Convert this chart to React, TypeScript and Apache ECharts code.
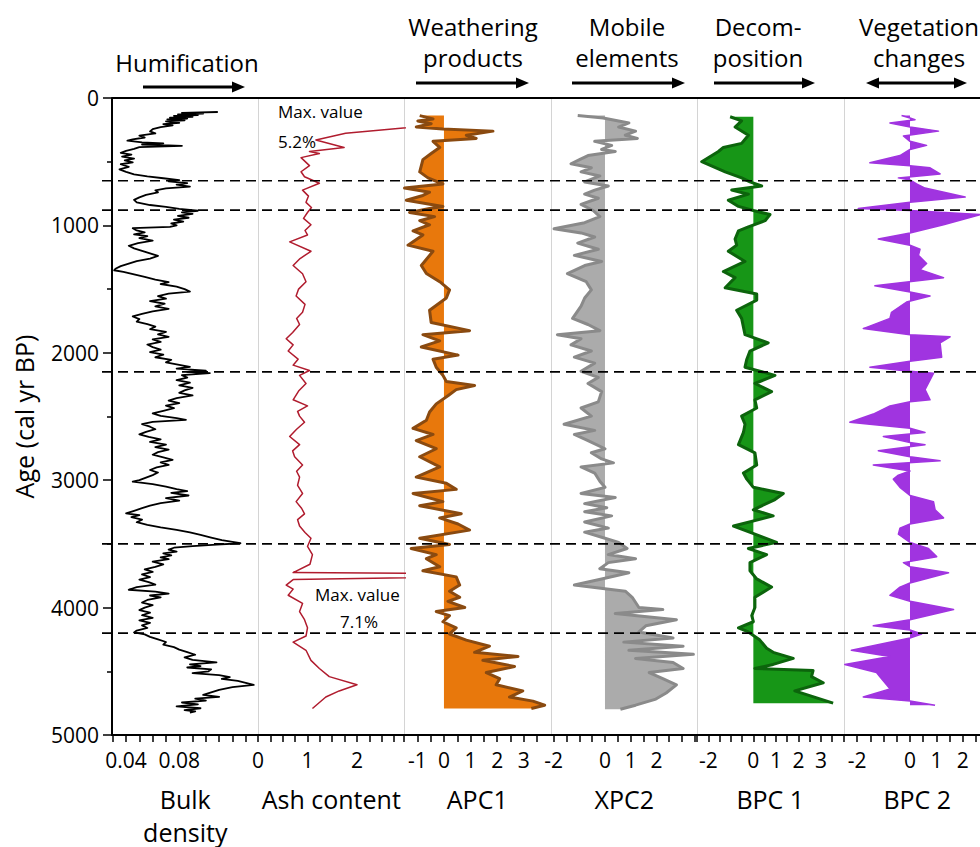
import React, { useEffect, useRef } from "react";
import * as echarts from "echarts";

const FONT = "'Open Sans', 'Noto Sans', sans-serif";

// Zone boundaries (cal yr BP)
const boundaryAges = [650, 880, 2150, 3500, 4200];

// [age, value] profiles
const bulkDensityProfile: number[][] = [
  [110,0.109],[116,0.082],[122,0.098],[128,0.079],[134,0.094],[140,0.076],[147,0.09],[154,0.073],[161,0.086],[168,0.071],
  [176,0.084],[184,0.07],[195,0.08],[205,0.068],[215,0.075],[228,0.066],[245,0.06],[262,0.058],[278,0.062],[295,0.05],
  [310,0.054],[325,0.045],[335,0.041],[348,0.052],[356,0.068],[365,0.052],[375,0.082],[385,0.05],[400,0.046],[415,0.04],
  [430,0.036],[445,0.044],[460,0.037],[475,0.046],[490,0.039],[505,0.045],[520,0.036],[540,0.042],[560,0.035],[580,0.04],
  [600,0.046],[615,0.056],[630,0.068],[645,0.08],[655,0.072],[668,0.086],[680,0.078],[695,0.088],[710,0.07],[725,0.062],
  [740,0.064],[760,0.055],[780,0.05],[800,0.046],[820,0.048],[840,0.058],[855,0.07],[870,0.08],[885,0.094],[898,0.082],
  [910,0.09],[925,0.079],[940,0.087],[955,0.076],[970,0.083],[985,0.074],[1000,0.078],[1012,0.073],[1022,0.045],[1040,0.048],
  [1055,0.054],[1070,0.046],[1085,0.056],[1100,0.05],[1120,0.06],[1140,0.049],[1160,0.042],[1180,0.046],[1200,0.052],[1220,0.058],
  [1240,0.064],[1260,0.058],[1280,0.048],[1300,0.042],[1320,0.036],[1340,0.032],[1352,0.031],[1365,0.038],[1385,0.046],[1405,0.054],
  [1425,0.062],[1445,0.072],[1460,0.066],[1480,0.078],[1500,0.084],[1520,0.088],[1535,0.072],[1555,0.064],[1575,0.07],[1595,0.058],
  [1615,0.069],[1635,0.062],[1655,0.072],[1675,0.06],[1695,0.052],[1715,0.045],[1735,0.05],[1755,0.048],[1775,0.056],[1795,0.062],
  [1815,0.058],[1835,0.07],[1855,0.064],[1875,0.072],[1895,0.06],[1915,0.066],[1935,0.056],[1955,0.06],[1975,0.066],[1995,0.058],
  [2015,0.068],[2035,0.062],[2055,0.074],[2075,0.07],[2095,0.08],[2110,0.088],[2125,0.078],[2140,0.1],[2150,0.086],[2160,0.103],
  [2175,0.082],[2195,0.086],[2215,0.078],[2235,0.088],[2255,0.08],[2275,0.09],[2295,0.084],[2315,0.08],[2335,0.09],[2355,0.078],
  [2375,0.072],[2395,0.08],[2415,0.07],[2435,0.076],[2455,0.068],[2475,0.06],[2495,0.066],[2512,0.078],[2527,0.085],[2542,0.06],
  [2560,0.052],[2580,0.058],[2600,0.062],[2620,0.055],[2640,0.05],[2660,0.057],[2680,0.066],[2700,0.058],[2720,0.07],[2740,0.062],
  [2760,0.072],[2780,0.064],[2800,0.06],[2820,0.068],[2840,0.075],[2860,0.066],[2880,0.072],[2900,0.063],[2920,0.058],[2940,0.064],
  [2960,0.06],[2980,0.055],[3000,0.05],[3012,0.045],[3030,0.06],[3050,0.07],[3070,0.078],[3085,0.086],[3100,0.074],[3120,0.087],
  [3140,0.07],[3160,0.08],[3180,0.066],[3200,0.058],[3220,0.052],[3240,0.046],[3260,0.04],[3275,0.05],[3290,0.044],[3310,0.052],
  [3330,0.048],[3350,0.056],[3370,0.066],[3390,0.078],[3410,0.088],[3430,0.096],[3450,0.104],[3470,0.112],[3485,0.12],[3495,0.126],
  [3505,0.108],[3518,0.09],[3530,0.076],[3545,0.072],[3560,0.078],[3575,0.068],[3590,0.074],[3605,0.066],[3620,0.072],[3640,0.06],
  [3660,0.068],[3680,0.062],[3700,0.054],[3720,0.06],[3740,0.052],[3760,0.058],[3780,0.05],[3800,0.057],[3820,0.062],[3840,0.048],
  [3860,0.042],[3875,0.062],[3890,0.072],[3905,0.058],[3920,0.066],[3940,0.056],[3960,0.052],[3980,0.06],[4000,0.054],[4020,0.05],
  [4040,0.058],[4060,0.052],[4080,0.06],[4100,0.05],[4120,0.058],[4140,0.052],[4160,0.056],[4180,0.048],[4195,0.046],[4210,0.054],
  [4230,0.058],[4250,0.064],[4270,0.07],[4290,0.068],[4310,0.076],[4330,0.08],[4350,0.086],[4370,0.092],[4390,0.084],[4410,0.09],
  [4430,0.108],[4445,0.088],[4460,0.096],[4470,0.086],[4485,0.104],[4500,0.102],[4515,0.09],[4530,0.11],[4545,0.118],[4560,0.112],
  [4575,0.124],[4590,0.13],[4607,0.136],[4625,0.12],[4645,0.11],[4665,0.104],[4685,0.098],[4700,0.11],[4715,0.092],[4730,0.1],
  [4745,0.082],[4760,0.094],[4775,0.078],[4790,0.096],[4805,0.084],[4815,0.092],[4825,0.088]
];

const ashProfile: number[][] = [
  [155,5.2],[276,1.77],[330,1.17],[388,1.74],[420,1.04],[436,1.24],[468,0.87],[531,1.04],[579,0.87],[618,0.94],
  [669,1.24],[723,0.9],[770,1.02],[819,0.97],[860,1.08],[899,1.0],[945,0.92],[995,1.07],[1040,0.95],[1075,1.0],[1129,0.64],
  [1203,1.07],[1260,0.85],[1315,0.71],[1380,0.9],[1442,0.97],[1500,0.82],[1554,0.77],[1620,0.95],[1682,0.9],[1730,0.78],[1778,0.84],
  [1840,0.7],[1890,0.57],[1938,0.71],[1986,0.61],[2050,0.81],[2097,0.71],[2139,1.04],[2177,0.84],[2241,0.97],[2300,0.82],
  [2369,0.71],[2417,1.0],[2460,0.8],[2497,0.84],[2545,0.94],[2600,0.78],[2657,0.64],[2721,0.84],[2770,0.7],[2816,0.74],[2880,0.9],
  [2930,0.78],[2976,0.84],[3040,0.8],[3104,0.9],[3168,0.77],[3220,0.88],[3264,0.94],[3310,0.8],[3360,0.84],[3410,0.95],[3456,1.07],
  [3520,1.0],[3584,1.1],[3660,1.05],[3725,0.71],[3740,7.1],[3780,0.71],[3823,0.57],[3855,0.71],[3903,0.61],[3967,0.9],
  [4031,0.84],[4095,0.94],[4159,1.0],[4223,0.97],[4271,0.71],[4335,0.97],[4414,1.07],[4478,1.24],[4542,1.44],[4606,2.0],
  [4654,1.64],[4702,1.37],[4792,1.1]
];

const apc1Profile: number[][] = [
  [138,-0.91],[164,-0.41],[180,-0.98],[202,-0.48],[228,-1.04],[244,-0.04],[260,1.84],[292,0.84],[317,1.21],[340,-0.41],
  [388,-0.16],[436,-0.48],[484,-0.79],[580,-0.91],[627,-0.6],[675,-0.04],[707,-1.48],[739,-0.54],[765,-0.79],[803,-1.41],
  [851,-0.04],[867,-0.54],[899,-1.29],[931,-0.35],[963,-0.91],[995,-0.54],[1043,-1.16],[1075,-0.79],[1155,-1.35],[1203,-0.41],
  [1315,-0.85],[1378,-0.66],[1442,-0.16],[1506,0.21],[1570,0.09],[1666,-0.54],[1762,-0.48],[1826,0.96],[1858,-0.79],[1906,-0.16],
  [1954,-0.85],[2018,0.53],[2050,-0.41],[2113,-0.29],[2177,-0.04],[2225,0.09],[2257,1.15],[2289,0.46],[2337,0.15],[2401,-0.29],
  [2465,-0.54],[2529,-0.66],[2593,-1.16],[2641,-0.41],[2689,-1.04],[2753,-0.29],[2816,-0.91],[2896,-0.16],[2976,-1.04],[3024,0.09],
  [3072,0.46],[3104,-1.16],[3168,-0.04],[3200,-0.91],[3264,0.65],[3296,-0.16],[3344,0.53],[3392,0.96],[3456,-0.91],[3504,0.21],
  [3536,-1.23],[3584,-0.29],[3616,-0.66],[3680,-0.16],[3711,-0.79],[3759,0.46],[3823,0.59],[3871,0.21],[3919,0.59],[3951,0.15],
  [3999,0.78],[4031,-0.29],[4063,0.21],[4111,-0.04],[4159,0.46],[4207,0.21],[4255,0.84],[4303,1.71],[4351,1.15],[4383,2.78],
  [4414,1.46],[4462,2.65],[4510,1.59],[4558,2.09],[4606,1.96],[4654,2.96],[4702,2.46],[4734,3.34],[4766,3.78],[4792,3.28]
];

const xpc2Profile: number[][] = [
  [138,-1.06],[157,-0.07],[196,0.93],[228,0.53],[260,1.19],[292,0.79],[317,1.26],[340,-0.4],[372,0.26],[404,-0.13],
  [420,0.4],[452,-0.66],[484,-0.99],[516,-1.32],[548,-0.53],[580,-0.93],[612,-0.2],[659,-0.79],[691,0.13],[723,-0.4],
  [755,-0.79],[787,-0.26],[835,-0.93],[883,-0.46],[931,-0.2],[979,-0.79],[1027,-1.98],[1059,-0.93],[1091,-0.4],[1139,-1.06],
  [1187,-0.26],[1235,-1.19],[1283,-0.13],[1315,-0.79],[1378,-1.46],[1442,-0.73],[1506,-0.53],[1570,-0.79],[1634,-0.93],[1730,-1.26],
  [1778,-0.66],[1826,-0.2],[1858,-1.85],[1890,-0.93],[1938,-1.32],[1986,-0.53],[2034,-1.19],[2081,-0.4],[2145,-0.93],[2193,-0.26],
  [2241,-0.66],[2305,-0.13],[2385,-0.26],[2433,-0.93],[2497,-0.53],[2561,-1.59],[2609,-0.4],[2641,-1.19],[2689,-0.66],[2753,0],
  [2785,-0.53],[2833,-0.13],[2864,0.33],[2896,-0.93],[2944,-0.4],[3008,-0.2],[3056,0],[3104,-0.93],[3136,0.4],[3184,-0.79],
  [3216,0.07],[3248,-0.79],[3280,0.26],[3328,-0.79],[3376,0.13],[3408,-0.79],[3456,0],[3488,0.53],[3536,0.86],[3584,0.13],
  [3616,1.19],[3647,0.13],[3695,-0.2],[3727,0.93],[3775,-0.13],[3823,-1.19],[3871,0.79],[3919,1.06],[3999,1.32],[4015,2.25],
  [4047,0.4],[4095,2.78],[4143,1.59],[4191,1.32],[4239,2.65],[4271,0.73],[4303,3.04],[4335,0.93],[4367,3.44],[4399,1.19],
  [4431,2.65],[4478,3.04],[4510,1.72],[4558,2.25],[4606,2.78],[4670,2.38],[4718,1.98],[4766,1.19],[4798,0.6]
];

const bpc1Profile: number[][] = [
  [147,-1.03],[179,-0.52],[228,-0.81],[292,-0.22],[356,-0.52],[388,-1.33],[420,-1.55],[500,-2.29],[580,-1.25],[627,-0.52],
  [659,-0.15],[691,0.37],[723,-0.96],[755,-0.22],[803,-1.11],[851,-0.66],[883,0],[915,0.74],[963,0.52],[1011,-0.22],
  [1043,-0.66],[1107,-0.81],[1155,-0.74],[1203,-1.11],[1283,-0.37],[1362,-1.33],[1410,-0.81],[1490,-1.25],[1538,0.15],[1586,0.15],
  [1666,-0.74],[1730,-0.52],[1858,-0.37],[1922,0.66],[1986,-0.15],[2050,-0.29],[2113,-0.37],[2177,0.96],[2241,0.07],[2305,0.81],
  [2369,0.07],[2433,0.15],[2497,-0.52],[2561,-0.37],[2625,-0.44],[2721,-0.66],[2785,0.07],[2880,0.15],[2944,-0.44],[2992,-0.29],
  [3056,0],[3104,1.33],[3152,0.96],[3232,0],[3280,0.88],[3360,-0.88],[3424,0.07],[3488,1.03],[3536,-0.22],[3584,0.59],
  [3647,-0.15],[3711,-0.15],[3775,0.15],[3839,0.81],[3919,0.07],[3999,0.07],[4063,-0.07],[4111,0],[4159,-0.66],[4191,-0.22],
  [4255,0.29],[4319,0.59],[4351,0.88],[4399,1.77],[4446,0.88],[4478,0.07],[4494,2.65],[4542,2.58],[4590,3.1],[4654,1.84],
  [4750,3.54]
];

const bpc2Profile: number[][] = [
  [138,-0.32],[157,0],[170,0.19],[196,-0.76],[228,0],[260,1.08],[298,-0.25],[340,0],[372,0.63],[404,0],
  [452,-0.38],[509,-1.52],[532,0],[548,0.76],[596,1.14],[627,-0.44],[643,0],[675,0.25],[707,0.57],[777,2.09],
  [819,0],[867,-1.96],[883,0],[915,2.66],[995,1.27],[1059,0],[1107,-1.2],[1155,0],[1187,0.38],[1235,0.32],
  [1299,0.63],[1347,0.38],[1410,1.27],[1474,-1.33],[1522,0],[1554,0.76],[1602,-0.13],[1682,-0.7],[1730,-0.76],[1810,-1.77],
  [1858,0],[1874,1.52],[1922,1.14],[2034,1.2],[2066,0],[2113,-1.52],[2145,0],[2161,0.89],[2289,0.57],[2369,0.76],
  [2385,0],[2417,-0.76],[2481,-1.39],[2545,-2.28],[2593,0],[2625,0.57],[2657,-1.01],[2705,0],[2721,0.57],[2769,-1.2],
  [2816,0],[2848,1.14],[2880,-1.39],[2928,0],[2960,-0.44],[2992,-0.63],[3056,-0.38],[3120,0],[3168,0.89],[3232,0.95],
  [3296,1.27],[3344,0],[3376,-0.38],[3424,-0.44],[3488,0],[3536,0.7],[3600,1.01],[3647,-0.25],[3679,0],[3727,1.46],
  [3807,0],[3839,-0.38],[3903,-0.76],[3951,0],[4015,1.65],[4095,0],[4143,-1.39],[4175,0],[4207,0.44],[4239,0],
  [4335,-2.22],[4383,-0.76],[4446,-2.47],[4510,-1.27],[4542,-1.14],[4638,-0.76],[4702,-1.77],[4734,0],[4766,0.95]
];

// Axis names, ranges, tick and label values per panel
const panelNames = ["Bulk\ndensity", "Ash content", "APC1", "XPC2", "BPC 1", "BPC 2"];
const panelMin = [0.0294, 0, -1.5, -2.1, -2.5, -2.5];
const panelMax = [0.1396, 2.96, 4, 3.6, 4, 3.05];
const panelTicks = [
  [0.03, 0.04, 0.05, 0.06, 0.07, 0.08, 0.09, 0.1, 0.11, 0.12, 0.13],
  [0, 0.25, 0.5, 0.75, 1, 1.25, 1.5, 1.75, 2, 2.25, 2.5, 2.75],
  [-1.5, -1, -0.5, 0, 0.5, 1, 1.5, 2, 2.5, 3, 3.5],
  [-2, -1.5, -1, -0.5, 0, 0.5, 1, 1.5, 2, 2.5, 3, 3.5],
  [-2.5, -2, -1.5, -1, -0.5, 0, 0.5, 1, 1.5, 2, 2.5, 3, 3.5],
  [-2.5, -2, -1.5, -1, -0.5, 0, 0.5, 1, 1.5, 2, 2.5, 3]
];
const panelLabels = [
  [0.04, 0.08],
  [0, 1, 2],
  [-1, 0, 1, 2, 3],
  [-2, 0, 1, 2],
  [-2, 0, 1, 2, 3],
  [-2, 0, 1, 2]
];
const ageMin = 0;
const ageMax = 5000;
const ageInterval = 1000;

const headerTexts = [
  { lines: ["Humification"], cx: 187 },
  { lines: ["Weathering", "products"], cx: 473 },
  { lines: ["Mobile", "elements"], cx: 627 },
  { lines: ["Decom-", "position"], cx: 758 },
  { lines: ["Vegetation", "changes"], cx: 919 }
];

const gridLefts = [112, 258, 404, 551, 697, 844];
const GRID_W = 146.5;
const GRID_TOP = 98;
const GRID_H = 637;

function fillSeries(idx: number, profile: number[][], color: string) {
  return {
    type: "custom",
    xAxisIndex: idx,
    yAxisIndex: idx,
    silent: true,
    z: 2,
    data: [[0, 0]],
    renderItem: (params: any, api: any) => {
      const pts: number[][] = [api.coord([0, profile[0][0]])];
      for (const [age, v] of profile) pts.push(api.coord([v, age]));
      pts.push(api.coord([0, profile[profile.length - 1][0]]));
      return { type: "polygon", shape: { points: pts }, style: { fill: color, stroke: null } };
    }
  };
}

function lineSeries(idx: number, profile: number[][], color: string, width: number) {
  return {
    type: "line",
    xAxisIndex: idx,
    yAxisIndex: idx,
    silent: true,
    z: 3,
    symbol: "none",
    clip: true,
    data: profile.map(([age, v]) => [v, age]),
    lineStyle: { color, width, join: "round" }
  };
}

function arrow(x1: number, x2: number, y: number, both: boolean) {
  const els: any[] = [];
  const head = 13;
  const half = 5.5;
  els.push({
    type: "line",
    shape: { x1: both ? x1 + head - 2 : x1, y1: y, x2: x2 - head + 2, y2: y },
    style: { stroke: "#000", lineWidth: 3 }
  });
  els.push({
    type: "polygon",
    shape: { points: [[x2 - head, y - half], [x2, y], [x2 - head, y + half]] },
    style: { fill: "#000" }
  });
  if (both) {
    els.push({
      type: "polygon",
      shape: { points: [[x1 + head, y - half], [x1, y], [x1 + head, y + half]] },
      style: { fill: "#000" }
    });
  }
  return els;
}

export default function App() {
  const ref = useRef<HTMLDivElement>(null);
  useEffect(() => {
    if (!ref.current) return;
    const chart = echarts.init(ref.current, null, { renderer: "svg", width: 980, height: 847 });

    const grids = gridLefts.map((left) => ({
      left,
      top: GRID_TOP,
      width: GRID_W,
      height: GRID_H,
      containLabel: false,
      outerBoundsMode: "none"
    }));

    const xAxes = panelNames.map((name, i) => ({
      type: "value",
      gridIndex: i,
      min: panelMin[i],
      max: panelMax[i],
      position: "bottom",
      axisLine: { show: true, onZero: false, lineStyle: { color: "#000", width: 2 } },
      axisTick: { show: true, inside: false, length: 7, customValues: panelTicks[i], lineStyle: { color: "#000", width: 1.5 } },
      axisLabel: {
        show: true,
        customValues: panelLabels[i],
        fontSize: 21,
        fontFamily: FONT,
        color: "#000",
        margin: 14,
        hideOverlap: false,
        formatter: (v: number) => String(v)
      },
      splitLine: { show: false },
      name,
      nameLocation: "middle",
      nameGap: 47,
      nameMoveOverlap: false,
      nameTextStyle: { fontSize: 25, fontFamily: FONT, color: "#000", lineHeight: 33 }
    }));

    const yAxes = panelNames.map((_, i) => ({
      type: "value",
      gridIndex: i,
      min: ageMin,
      max: ageMax,
      interval: ageInterval,
      inverse: true,
      axisLine: { show: true, onZero: false, lineStyle: { color: i === 0 ? "#000" : "#d4d4d4", width: i === 0 ? 2 : 1 } },
      axisTick: { show: i === 0, length: 9, lineStyle: { color: "#000", width: 1.5 } },
      minorTick: { show: i === 0, splitNumber: 2, length: 5, lineStyle: { color: "#000", width: 1.5 } },
      axisLabel: {
        show: i === 0,
        fontSize: 21,
        fontFamily: FONT,
        color: "#000",
        margin: 13,
        formatter: (v: number) => String(v)
      },
      splitLine: { show: false },
      name: i === 0 ? "Age (cal yr BP)" : "",
      nameLocation: "middle",
      nameGap: 76,
      nameMoveOverlap: false,
      nameTextStyle: { fontSize: 25, fontFamily: FONT, color: "#000" }
    }));

    const series: any[] = [
      lineSeries(0, bulkDensityProfile, "#000", 1.8),
      lineSeries(1, ashProfile, "#b01c2e", 1.5),
      fillSeries(2, apc1Profile, "#e8780c"),
      lineSeries(2, apc1Profile, "#8a4a10", 3),
      fillSeries(3, xpc2Profile, "#ababab"),
      lineSeries(3, xpc2Profile, "#8a8a8a", 3),
      fillSeries(4, bpc1Profile, "#179617"),
      lineSeries(4, bpc1Profile, "#0c640c", 3),
      fillSeries(5, bpc2Profile, "#a034e0"),
      lineSeries(5, bpc2Profile, "#a034e0", 1.5)
    ];

    chart.setOption({
      animation: false,
      backgroundColor: "#fff",
      grid: grids,
      xAxis: xAxes,
      yAxis: yAxes,
      series
    });

    const yAt = (age: number) => chart.convertToPixel({ yAxisIndex: 0 }, age) as number;
    const graphics: any[] = [];
    const yTop = yAt(ageMin);
    graphics.push({
      type: "line",
      shape: { x1: gridLefts[0], y1: yTop, x2: 980, y2: yTop },
      style: { stroke: "#000", lineWidth: 2 },
      z: 10
    });
    for (const a of boundaryAges) {
      const y = yAt(a);
      graphics.push({
        type: "line",
        shape: { x1: 102, y1: y, x2: 980, y2: y },
        style: { stroke: "#000", lineWidth: 1.6, lineDash: [10, 6] },
        z: 10
      });
    }
    for (const h of headerTexts) {
      const ys = h.lines.length === 1 ? [62] : [26, 57];
      h.lines.forEach((t, k) => {
        graphics.push({
          type: "text",
          x: h.cx,
          y: ys[k],
          style: { text: t, fontSize: 24, fontFamily: FONT, fill: "#000", align: "center", verticalAlign: "middle" },
          z: 10
        });
      });
    }
    graphics.push(...arrow(143, 245, 87, false));
    graphics.push(...arrow(416, 529, 83, false));
    graphics.push(...arrow(572, 685, 83, false));
    graphics.push(...arrow(714, 815, 83, false));
    graphics.push(...arrow(866, 967, 83, true));

    const notes = [
      { t: "Max. value", x: 278, y: 111 },
      { t: "5.2%", x: 278, y: 141 },
      { t: "Max. value", x: 315, y: 594 },
      { t: "7.1%", x: 340, y: 621 }
    ];
    for (const n of notes) {
      graphics.push({
        type: "text",
        x: n.x,
        y: n.y,
        style: { text: n.t, fontSize: 17, fontFamily: FONT, fill: "#000", align: "left", verticalAlign: "middle" },
        z: 10
      });
    }

    chart.setOption({ graphic: graphics });

    return () => chart.dispose();
  }, []);

  return <div ref={ref} style={{ position: "absolute", left: 0, top: 0, width: 980, height: 847 }} />;
}
